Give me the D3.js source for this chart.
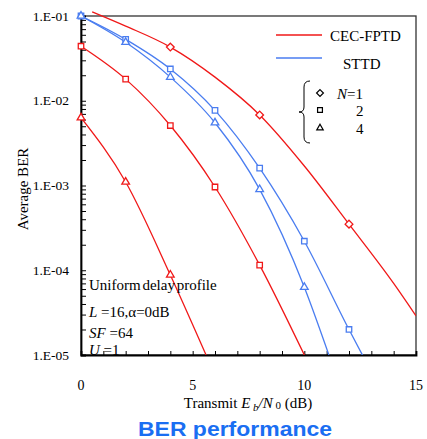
<!DOCTYPE html>
<html>
<head>
<meta charset="utf-8">
<script src="https://cdn.jsdelivr.net/npm/d3@7"></script>
<style>
  body { margin: 0; background: #fff; }
  text { font-family: "Liberation Serif", "Times New Roman", serif; }
</style>
</head>
<body>
<div id="chart"></div>
<script>
// Eb/N0 (dB) and BER values
const cecN1Snr = [0.5, 2, 4, 6, 8, 10, 12, 14, 15];
const cecN1Ber = [0.112, 0.076, 0.043, 0.019, 0.0068, 0.0017, 0.00035, 0.00007, 0.000029];
const cecN1Marks = [4, 8, 12];

const cecN2Snr = [0, 2, 4, 6, 8, 10];
const cecN2Ber = [0.044, 0.018, 0.0051, 0.00096, 0.000115, 0.00001];
const cecN2Marks = [0, 2, 4, 6, 8];

const cecN4Snr = [0, 2, 4, 5.6];
const cecN4Ber = [0.0063, 0.0011, 0.000088, 0.00001];
const cecN4Marks = [0, 2, 4];

const sttdN2Snr = [0, 2, 4, 6, 8, 10, 12, 12.6];
const sttdN2Ber = [0.1, 0.053, 0.0237, 0.0077, 0.0016, 0.00022, 0.00002, 0.00001];
const sttdN2Marks = [0, 2, 4, 6, 8, 10, 12];

const sttdN4Snr = [0, 2, 4, 6, 8, 10, 11.1];
const sttdN4Ber = [0.1, 0.049, 0.019, 0.0055, 0.0009, 0.000063, 0.00001];
const sttdN4Marks = [0, 2, 4, 6, 8, 10];

const xTicks = [0, 5, 10, 15];
const yTicks = [1e-1, 1e-2, 1e-3, 1e-4, 1e-5];
const yTickLabels = ['1.E-01', '1.E-02', '1.E-03', '1.E-04', '1.E-05'];

const red = '#f01818';
const blue = '#4a7df0';

const width = 427;
const height = 439;
const svg = d3.select('#chart').append('svg').attr('width', width).attr('height', height);

const margin = { top: 16, right: 11, bottom: 84, left: 81 };
const chartWidth = width - margin.left - margin.right;
const chartHeight = height - margin.top - margin.bottom;

const x = d3.scaleLinear().domain([0, 15]).range([0, chartWidth]);
const y = d3.scaleLog().domain([1e-5, 1e-1]).range([chartHeight, 0]);

const chart = svg.append('g').attr('transform', `translate(${margin.left}, ${margin.top})`);

svg.append('defs').append('clipPath').attr('id', 'clip')
  .append('rect').attr('x', 0).attr('y', -8).attr('width', chartWidth).attr('height', chartHeight + 8);

// frame
chart.append('rect')
  .attr('width', chartWidth).attr('height', chartHeight)
  .attr('fill', 'none').attr('stroke', '#333').attr('stroke-width', 1.3);

// x axis: minor ticks every 1 dB, pointing inward
const xAxis = chart.append('g').attr('transform', `translate(0, ${chartHeight})`)
  .call(d3.axisBottom(x).tickValues(d3.range(0, 16)).tickSize(-4).tickFormat(''));
xAxis.select('.domain').attr('stroke', '#000').attr('stroke-width', 1.8);
xAxis.selectAll('.tick line').attr('stroke', '#000');

chart.selectAll('.xlabel')
  .data(xTicks)
  .enter()
  .append('text')
  .attr('x', (d) => x(d))
  .attr('y', chartHeight + 35)
  .attr('text-anchor', 'middle')
  .attr('font-size', 14)
  .text((d) => d);

// y axis: log minor ticks inward
const yMinor = [];
for (let e = -5; e < -1; e++) for (let m = 1; m < 10; m++) yMinor.push(m * Math.pow(10, e));
yMinor.push(1e-1);
const yAxis = chart.append('g')
  .call(d3.axisLeft(y).tickValues(yMinor).tickSize(-5).tickFormat(''));
yAxis.select('.domain').attr('stroke', '#000').attr('stroke-width', 1.8);
yAxis.selectAll('.tick line').attr('stroke', '#000');

chart.selectAll('.ylabel')
  .data(yTicks)
  .enter()
  .append('text')
  .attr('x', -12)
  .attr('y', (d) => y(d) + 4.5)
  .attr('text-anchor', 'end')
  .attr('font-size', 13.5)
  .text((d, i) => yTickLabels[i]);

// axis titles
svg.append('text')
  .attr('transform', `translate(28, 189) rotate(-90)`)
  .attr('text-anchor', 'middle')
  .attr('font-size', 15)
  .text('Average BER');

const xt = svg.append('text')
  .attr('x', 248).attr('y', 408)
  .attr('text-anchor', 'middle')
  .attr('font-size', 15);
xt.append('tspan').text('Transmit ');
xt.append('tspan').attr('font-style', 'italic').text('E');
xt.append('tspan').attr('font-style', 'italic').attr('font-size', 11).attr('dy', 3).text(' b');
xt.append('tspan').attr('font-style', 'italic').attr('dy', -3).text('/N');
xt.append('tspan').attr('font-size', 11).attr('dy', 1).text(' 0');
xt.append('tspan').attr('dy', -1).text(' (dB)');

// curves
const series = [
  { snr: cecN1Snr, ber: cecN1Ber, marks: cecN1Marks, color: red, shape: d3.symbolDiamond2 },
  { snr: cecN2Snr, ber: cecN2Ber, marks: cecN2Marks, color: red, shape: d3.symbolSquare2 },
  { snr: cecN4Snr, ber: cecN4Ber, marks: cecN4Marks, color: red, shape: d3.symbolTriangle2 },
  { snr: sttdN2Snr, ber: sttdN2Ber, marks: sttdN2Marks, color: blue, shape: d3.symbolSquare2 },
  { snr: sttdN4Snr, ber: sttdN4Ber, marks: sttdN4Marks, color: blue, shape: d3.symbolTriangle2 }
];

const line = d3.line()
  .x((d) => x(d[0]))
  .y((d) => y(d[1]))
  .curve(d3.curveMonotoneX);

const plot = chart.append('g').attr('clip-path', 'url(#clip)');

series.forEach((s) => {
  const pts = s.snr.map((v, i) => [v, s.ber[i]]);
  plot.append('path')
    .datum(pts)
    .attr('fill', 'none')
    .attr('stroke', s.color)
    .attr('stroke-width', 1.3)
    .attr('d', line);

  chart.selectAll(null)
    .data(pts.filter((d) => s.marks.includes(d[0])))
    .enter()
    .append('path')
    .attr('transform', (d) => `translate(${x(d[0])}, ${y(d[1])})`)
    .attr('d', d3.symbol().type(s.shape).size(s.shape === d3.symbolTriangle2 ? 42 : 38))
    .attr('fill', '#fff')
    .attr('stroke', s.color)
    .attr('stroke-width', 1.3);
});

// legend
const legend = svg.append('g');
legend.append('line').attr('x1', 276).attr('x2', 322).attr('y1', 35).attr('y2', 35)
  .attr('stroke', red).attr('stroke-width', 1.3);
legend.append('text').attr('x', 330).attr('y', 41).attr('font-size', 15).text('CEC-FPTD');
legend.append('line').attr('x1', 276).attr('x2', 322).attr('y1', 58).attr('y2', 58)
  .attr('stroke', blue).attr('stroke-width', 1.3);
legend.append('text').attr('x', 343).attr('y', 69).attr('font-size', 15).text('STTD');

legend.append('path')
  .attr('d', 'M310,81 Q304,81 304,87 L304,107 Q304,112 299,112 Q304,112 304,117 L304,137 Q304,143 310,143')
  .attr('fill', 'none').attr('stroke', '#000').attr('stroke-width', 1);

const legendShapes = [d3.symbolDiamond2, d3.symbolSquare2, d3.symbolTriangle2];
const legendY = [93, 110, 128];
legendShapes.forEach((sh, i) => {
  legend.append('path')
    .attr('transform', `translate(320, ${legendY[i]})`)
    .attr('d', d3.symbol().type(sh).size(30))
    .attr('fill', '#fff').attr('stroke', '#000').attr('stroke-width', 1.2);
});
const n1 = legend.append('text').attr('x', 337).attr('y', 99).attr('font-size', 15);
n1.append('tspan').attr('font-style', 'italic').text('N');
n1.append('tspan').text('=1');
legend.append('text').attr('x', 356).attr('y', 116).attr('font-size', 15).text('2');
legend.append('text').attr('x', 356).attr('y', 134).attr('font-size', 15).text('4');

// notes
const notes = svg.append('g').attr('font-size', 15);
notes.append('text').attr('x', 89).attr('y', 290).attr('word-spacing', -2).text('Uniform delay profile');
const l1 = notes.append('text').attr('x', 89).attr('y', 317);
l1.append('tspan').attr('font-style', 'italic').text('L');
l1.append('tspan').text(' =16,α=0dB');
const l2 = notes.append('text').attr('x', 89).attr('y', 338);
l2.append('tspan').attr('font-style', 'italic').text('SF');
l2.append('tspan').text(' =64');
const l3 = notes.append('text').attr('x', 89).attr('y', 355);
l3.append('tspan').attr('font-style', 'italic').text('U');
l3.append('tspan').text(' =1');

// title
svg.append('text')
  .attr('x', 138).attr('y', 436)
  .style('font-family', '"Liberation Sans", Arial, sans-serif')
  .attr('font-size', 20)
  .attr('font-weight', 'bold')
  .attr('fill', '#1a6ef2')
  .attr('textLength', 194)
  .attr('lengthAdjust', 'spacingAndGlyphs')
  .text('BER performance');
</script>
</body>
</html>
